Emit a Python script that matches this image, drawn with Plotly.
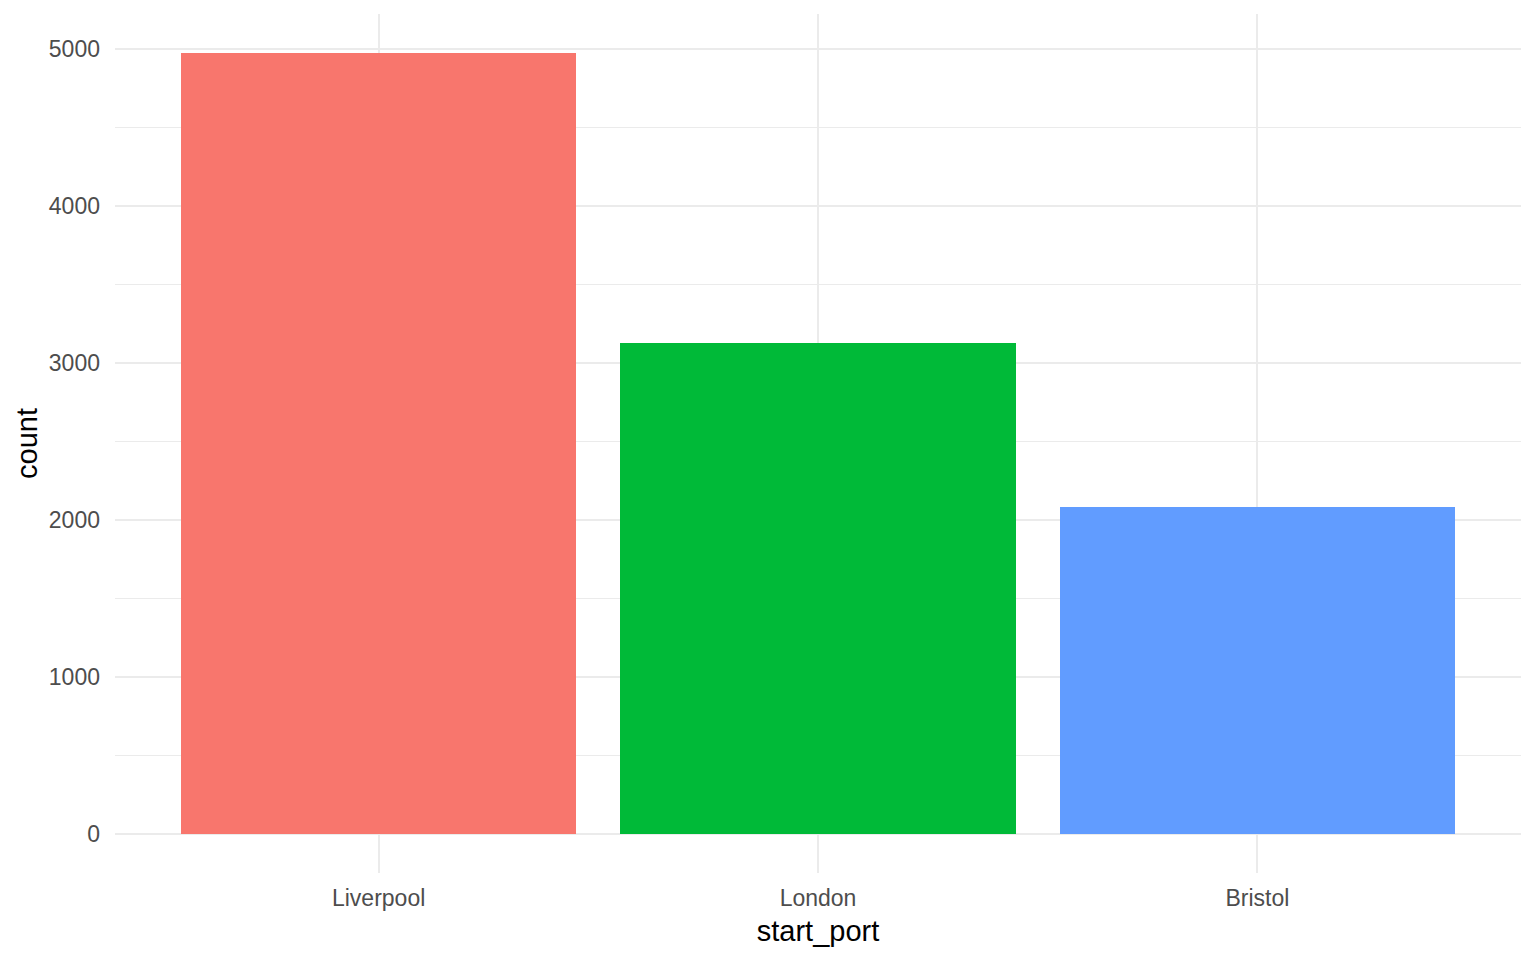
import plotly.graph_objects as go

# datos
puertos = ["Liverpool", "London", "Bristol"]
conteos = [4975, 3127, 2083]
colores = ["#F8766D", "#00BA38", "#619CFF"]

y_ticks = [0, 1000, 2000, 3000, 4000, 5000]

fig = go.Figure()

fig.add_trace(
    go.Bar(
        x=puertos,
        y=conteos,
        marker=dict(color=colores, line=dict(width=0)),
        width=0.9,
        showlegend=False,
    )
)

# expansión tipo ggplot: 5% en y, 0.6 en x discreto
y_max = max(conteos)
pad = y_max * 0.05

# la página añade 8px de margen al body, se compensa aquí
fig.update_layout(
    width=1536,
    height=960,
    margin=dict(l=107, r=23, t=6, b=95),
    plot_bgcolor="white",
    paper_bgcolor="white",
    font=dict(family="Liberation Sans, Arial, sans-serif", color="#4D4D4D", size=23),
    bargap=0,
)

fig.update_xaxes(
    range=[-0.6, len(puertos) - 0.4],
    showgrid=True,
    gridcolor="#EBEBEB",
    gridwidth=2,
    zeroline=False,
    showline=False,
    ticks="",
    ticklabelstandoff=9,
    tickfont=dict(size=23, color="#4D4D4D"),
    title=dict(text="start_port", font=dict(size=29, color="black"), standoff=10),
)

fig.update_yaxes(
    range=[-pad, y_max + pad],
    tickvals=y_ticks,
    showgrid=True,
    gridcolor="#EBEBEB",
    gridwidth=2,
    minor=dict(dtick=500, tick0=0, showgrid=True, gridcolor="#EBEBEB", gridwidth=1),
    zeroline=False,
    showline=False,
    ticks="",
    ticklabelstandoff=14,
    tickfont=dict(size=23, color="#4D4D4D"),
    title=dict(text="count", font=dict(size=29, color="black"), standoff=2),
)

fig.write_html("out.html")
